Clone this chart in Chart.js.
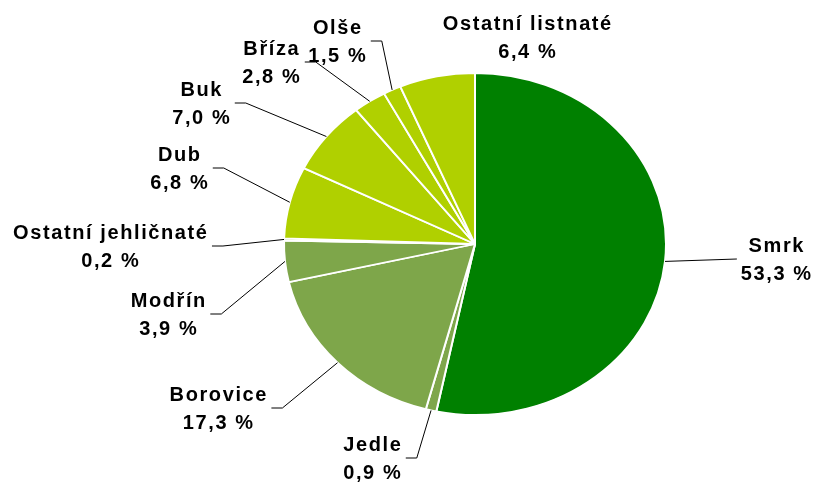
<!DOCTYPE html>
<html><head><meta charset="utf-8">
<script src="https://cdn.jsdelivr.net/npm/chart.js@4/dist/chart.umd.min.js"></script>
<style>html,body{margin:0;padding:0;background:#fff}#wrap{width:815px;height:484px}</style>
</head><body><div id="wrap"><canvas id="c" width="815" height="484"></canvas></div>
<script>
// ---- data ----
const categories = ['Smrk','Jedle','Borovice','Modřín','Ostatní jehličnaté','Dub','Buk','Bříza','Olše','Ostatní listnaté'];
const shares = [53.3, 0.9, 17.3, 3.9, 0.2, 6.8, 7.0, 2.8, 1.5, 6.4];
const valueLabels = ['53,3 %','0,9 %','17,3 %','3,9 %','0,2 %','6,8 %','7,0 %','2,8 %','1,5 %','6,4 %'];

// ---- styling / layout ----
const DARK = '#008000', CONIFER = '#7EA64A', BROAD = '#B0D000';
const sliceColors = [DARK, CONIFER, CONIFER, CONIFER, CONIFER, BROAD, BROAD, BROAD, BROAD, BROAD];
// label block anchors (center x, middle y) as placed in the original
const labelAnchors = [[776,259],[372,458],[218,408],[168,314],[110,246],[179,168],[201,103],[271,62],[337,41],[527,37]];
const showLeader = [1,1,1,1,1,1,1,1,1,0];
const SQUASH = 171/191;
const FONT = 'bold 20px "Liberation Sans", Arial, sans-serif';
const SPACING = 1.6;

const squashPlugin = {
  id: 'squash',
  beforeDatasetsDraw(chart) {
    const a = chart.chartArea, ctx = chart.ctx;
    const cx = (a.left + a.right) / 2, cy = (a.top + a.bottom) / 2;
    ctx.save();
    ctx.translate(cx, cy); ctx.scale(1, SQUASH); ctx.translate(-cx, -cy);
  },
  afterDatasetsDraw(chart) { chart.ctx.restore(); }
};

const labelPlugin = {
  id: 'labels',
  afterDraw(chart) {
    const ctx = chart.ctx;
    const meta = chart.getDatasetMeta(0);
    ctx.save();
    ctx.font = FONT;
    ctx.letterSpacing = SPACING + 'px';
    ctx.fillStyle = '#000';
    ctx.textAlign = 'left';
    ctx.textBaseline = 'alphabetic';
    meta.data.forEach((arc, i) => {
      const p = arc.getProps(['x','y','startAngle','endAngle','outerRadius'], true);
      const mid = (p.startAngle + p.endAngle) / 2;
      const px = p.x + p.outerRadius * Math.cos(mid);
      const py = p.y + p.outerRadius * SQUASH * Math.sin(mid);
      const [lx, ly] = labelAnchors[i];
      const l1 = categories[i], l2 = valueLabels[i];
      const w1 = ctx.measureText(l1).width - SPACING;
      const w2 = ctx.measureText(l2).width - SPACING;
      const w = Math.max(w1, w2);
      ctx.fillText(l1, lx - w1 / 2, ly - 7);
      ctx.fillText(l2, lx - w2 / 2, ly + 20.5);
      if (showLeader[i]) {
        ctx.beginPath();
        ctx.strokeStyle = '#000';
        ctx.lineWidth = 1;
        if (lx < p.x) {
          const endX = lx + w / 2 + 5;
          ctx.moveTo(px, py);
          ctx.lineTo(endX + 11, ly);
          ctx.lineTo(endX, ly);
        } else {
          const endX = lx - w / 2 - 4;
          ctx.moveTo(px, py);
          ctx.lineTo(endX, ly);
        }
        ctx.stroke();
      }
    });
    ctx.restore();
  }
};

new Chart(document.getElementById('c'), {
  type: 'pie',
  data: {
    labels: categories,
    datasets: [{
      data: shares,
      backgroundColor: sliceColors,
      borderColor: '#ffffff',
      borderWidth: 2,
      radius: 191
    }]
  },
  options: {
    responsive: false,
    devicePixelRatio: 1,
    animation: false,
    events: [],
    layout: { padding: { left: 284, right: 149, top: 53, bottom: 49 } },
    plugins: { legend: { display: false }, tooltip: { enabled: false } }
  },
  plugins: [squashPlugin, labelPlugin]
});
</script>
</body></html>
